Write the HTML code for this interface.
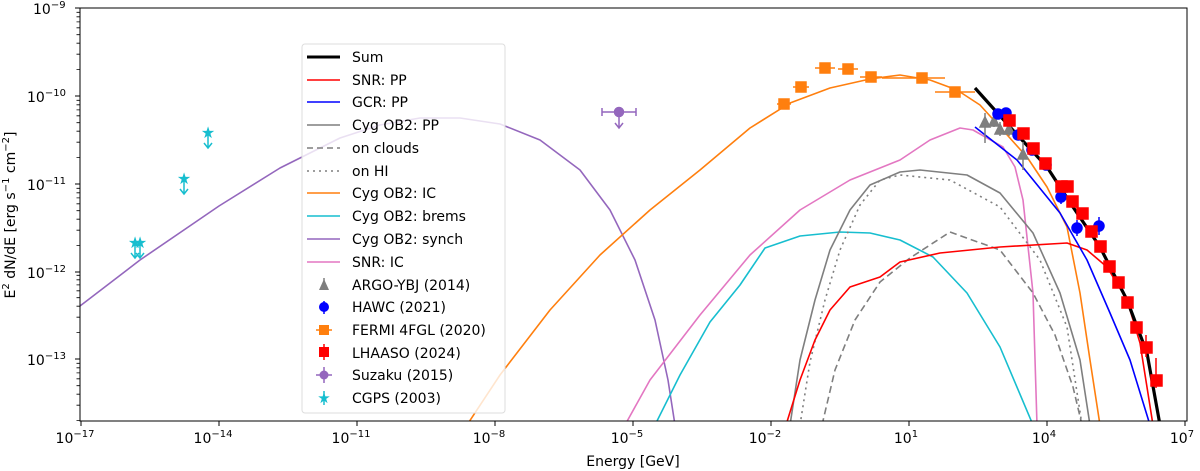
<!DOCTYPE html>
<html><head><meta charset="utf-8"><style>
body{margin:0;background:#fff;}
svg{display:block;font-family:"DejaVu Sans","Liberation Sans",sans-serif;}
</style></head><body>
<svg width="1200" height="471" viewBox="0 0 1200 471" xmlns="http://www.w3.org/2000/svg">
<defs>
<clipPath id="c"><rect x="80" y="8" width="1107" height="413"/></clipPath>
<g id="mt" stroke="#000" stroke-width="0.8">
<path d="M80 -26.4h-3.5M80 -41.8h-3.5M80 -52.8h-3.5M80 -61.3h-3.5M80 -68.2h-3.5M80 -74.1h-3.5M80 -79.2h-3.5M80 -83.7h-3.5"/>
</g>
</defs>
<rect width="1200" height="471" fill="#fff"/>
<g clip-path="url(#c)" fill="none" stroke-width="1.6" stroke-linejoin="round">
<!-- synch -->
<polyline stroke="#9467bd" points="80,306 140,260 219,206 280,168 340,138 380,125 420,118 460,118 500,124 540,140 580,170 610,210 635,260 655,320 668,380 675,425"/>
<!-- IC orange -->
<polyline stroke="#ff7f0e" points="467,425 500,375 550,310 600,255 650,210 700,170 750,128 790,103 830,88 870,79 900,75 930,80 957,90 980,105 1000,127 1027,157 1047,187 1067,227 1080,293 1090,360 1100,425"/>
<!-- SNR IC pink -->
<polyline stroke="#e377c2" points="625,425 650,380 700,315 750,255 800,210 850,180 900,160 930,140 960,128 973,130 1003,147 1015,167 1023,200 1033,293 1037,425"/>
<!-- brems cyan -->
<polyline stroke="#17becf" points="655,425 680,375 710,322 740,285 765,248 800,236 840,232 870,233 900,240 933,257 967,293 1000,347 1033,425"/>
<!-- gray PP -->
<polyline stroke="#7f7f7f" points="790,425 800,360 815,300 830,250 850,210 870,185 900,172 920,170 967,175 1000,193 1033,233 1060,293 1080,360 1090,425"/>
<!-- dotted HI -->
<polyline stroke="#7f7f7f" stroke-dasharray="2,4" points="800,425 810,362 825,300 840,250 860,205 880,180 900,175 950,180 1000,207 1040,260 1067,327 1082,425"/>
<!-- dashed clouds -->
<polyline stroke="#7f7f7f" stroke-dasharray="7,4" points="822,425 835,370 855,320 880,282 910,258 950,232 1000,250 1033,293 1055,335 1073,387 1082,425"/>
<!-- red SNR PP -->
<polyline stroke="#ff0000" points="786,425 800,380 815,340 830,310 850,287 880,277 900,262 940,253 1000,247 1067,243 1087,250 1107,267 1127,300 1140,343 1153,425"/>
<!-- blue GCR -->
<polyline stroke="#0000ff" points="975,127 1017,160 1060,213 1087,260 1110,313 1130,360 1150,425"/>
<!-- sum -->
<polyline stroke="#000" stroke-width="3.2" points="975,88 1010,127 1047,167 1073,207 1100,247 1127,300 1147,353 1160,425"/>
</g>
<!-- data points -->
<g stroke-width="1.5">
<!-- CGPS -->
<g fill="#17becf" stroke="#17becf">
<path d="M135,243v14M131,253l4,5l4,-5M140,243v14M136,253l4,5l4,-5M184,179v14M180,189l4,5l4,-5M208,133v14M204,143l4,5l4,-5" fill="none"/>
<text x="135" y="248" font-size="16" text-anchor="middle" stroke="none">★</text>
<text x="140" y="248" font-size="16" text-anchor="middle" stroke="none">★</text>
<text x="184" y="184" font-size="16" text-anchor="middle" stroke="none">★</text>
<text x="208" y="138" font-size="16" text-anchor="middle" stroke="none">★</text>
</g>
<!-- Suzaku -->
<g stroke="#9467bd" fill="#9467bd">
<path d="M602,112h34M602,108v8M636,108v8M619,112v15M615,123l4,5l4,-5" fill="none"/>
<circle cx="619" cy="112" r="4.5"/>
</g>
<!-- FERMI -->
<g stroke="#ff7f0e" fill="#ff7f0e">
<path d="M777,104h14M793,87h16M815,68h20M838,69h20M860,77h22M882,78h26M900,78h45M935,92h40" fill="none"/>
<rect x="779" y="99" width="10" height="10"/><rect x="796" y="82" width="10" height="10"/><rect x="820" y="63" width="10" height="10"/><rect x="843" y="64" width="10" height="10"/><rect x="866" y="72" width="10" height="10"/><rect x="917" y="73" width="10" height="10"/><rect x="950" y="87" width="10" height="10"/>
</g>
<!-- ARGO -->
<g stroke="#7f7f7f" fill="#7f7f7f">
<path d="M985,113v30M994,115v12M1000,122v14M1009,122v14M1023,142v28" fill="none"/>
<polygon points="985,117 980,127 990,127"/><polygon points="994,116 989,126 999,126"/><polygon points="1000,124 995,134 1005,134"/><polygon points="1009,124 1004,134 1014,134"/><polygon points="1023,149 1018,159 1028,159"/>
</g>
<!-- HAWC -->
<g stroke="#0000ff" fill="#0000ff">
<path d="M1061,190v14M1077,220v16M1099,217v18" fill="none"/>
<circle cx="998" cy="114" r="5"/><circle cx="1006" cy="113" r="5"/><circle cx="1018" cy="135" r="5"/><circle cx="1032" cy="150" r="5"/><circle cx="1046" cy="165" r="5"/><circle cx="1061" cy="197" r="5"/><circle cx="1077" cy="228" r="5"/><circle cx="1099" cy="226" r="5"/>
</g>
<!-- LHAASO -->
<g stroke="#ff0000" fill="#ff0000">
<path d="M1146,335v22M1156,358v30" fill="none"/>
<rect x="1004" y="115" width="11" height="11"/><rect x="1018" y="128" width="11" height="11"/><rect x="1028" y="143" width="11" height="11"/><rect x="1040" y="158" width="11" height="11"/><rect x="1056" y="181" width="11" height="11"/><rect x="1062" y="181" width="11" height="11"/><rect x="1067" y="196" width="11" height="11"/><rect x="1077" y="208" width="11" height="11"/><rect x="1086" y="226" width="11" height="11"/><rect x="1095" y="241" width="11" height="11"/><rect x="1104" y="261" width="11" height="11"/><rect x="1113" y="277" width="11" height="11"/><rect x="1122" y="297" width="11" height="11"/><rect x="1131" y="322" width="11" height="11"/><rect x="1141" y="342" width="11" height="11"/><rect x="1151" y="375" width="11" height="11"/>
</g>
</g>
<!-- axes -->
<rect x="80" y="8" width="1107" height="413" fill="none" stroke="#000" stroke-width="1"/>
<g stroke="#000" stroke-width="1">
<path d="M81,421v5M219,421v5M357,421v5M495,421v5M633,421v5M771,421v5M909,421v5M1047,421v5M1185,421v5"/>
<path d="M80,8h-5M80,96h-5M80,184h-5M80,272h-5M80,359h-5"/>
</g>
<use href="#mt" transform="translate(0,96)"/><use href="#mt" transform="translate(0,184)"/><use href="#mt" transform="translate(0,272)"/><use href="#mt" transform="translate(0,359)"/>
<g stroke="#000" stroke-width="0.8"><path d="M80,420.6h-3.5M80,405.2h-3.5M80,394.2h-3.5M80,385.7h-3.5M80,378.8h-3.5M80,372.9h-3.5M80,367.8h-3.5M80,363.3h-3.5"/></g>
<g font-size="14" fill="#000">
<g text-anchor="middle">
<text x="75" y="443">10<tspan font-size="10" dy="-6">−17</tspan></text>
<text x="213" y="443">10<tspan font-size="10" dy="-6">−14</tspan></text>
<text x="351" y="443">10<tspan font-size="10" dy="-6">−11</tspan></text>
<text x="489" y="443">10<tspan font-size="10" dy="-6">−8</tspan></text>
<text x="627" y="443">10<tspan font-size="10" dy="-6">−5</tspan></text>
<text x="765" y="443">10<tspan font-size="10" dy="-6">−2</tspan></text>
<text x="906" y="443">10<tspan font-size="10" dy="-6">1</tspan></text>
<text x="1044" y="443">10<tspan font-size="10" dy="-6">4</tspan></text>
<text x="1182" y="443">10<tspan font-size="10" dy="-6">7</tspan></text>
<text x="633" y="466">Energy [GeV]</text>
</g>
<text x="33" y="14">10<tspan font-size="10" dy="-6">−9</tspan></text>
<text x="27" y="102">10<tspan font-size="10" dy="-6">−10</tspan></text>
<text x="27" y="190">10<tspan font-size="10" dy="-6">−11</tspan></text>
<text x="27" y="278">10<tspan font-size="10" dy="-6">−12</tspan></text>
<text x="27" y="365">10<tspan font-size="10" dy="-6">−13</tspan></text>
<text transform="translate(15,215) rotate(-90)" text-anchor="middle">E<tspan font-size="10" dy="-6">2</tspan><tspan dy="6"> dN/dE [erg s</tspan><tspan font-size="10" dy="-6">−1</tspan><tspan dy="6"> cm</tspan><tspan font-size="10" dy="-6">−2</tspan><tspan dy="6">]</tspan></text>
</g>
<!-- legend -->
<rect x="302" y="44" width="203" height="369" rx="3" fill="#fff" fill-opacity="0.8" stroke="#ddd"/>
<g stroke-width="1.6" fill="none">
<path d="M307,57h33" stroke="#000" stroke-width="3"/>
<path d="M307,80h33" stroke="#f00"/>
<path d="M307,102h33" stroke="#00f"/>
<path d="M307,125h33" stroke="#7f7f7f"/>
<path d="M307,148h33" stroke="#7f7f7f" stroke-dasharray="6,4"/>
<path d="M307,171h33" stroke="#7f7f7f" stroke-dasharray="2,4"/>
<path d="M307,193h33" stroke="#ff7f0e"/>
<path d="M307,216h33" stroke="#17becf"/>
<path d="M307,239h33" stroke="#9467bd"/>
<path d="M307,262h33" stroke="#e377c2"/>
</g>
<polygon points="324,279 319,290 329,290" fill="#7f7f7f"/><path d="M324,278v12" stroke="#7f7f7f" stroke-width="1.5"/>
<circle cx="324" cy="307" r="5" fill="#00f"/><path d="M324,301v13" stroke="#00f" stroke-width="1.5"/>
<rect x="319" y="325" width="10" height="10" fill="#ff7f0e"/><path d="M316,330h16" stroke="#ff7f0e" stroke-width="1.5"/>
<rect x="319" y="347" width="10" height="10" fill="#f00"/><path d="M324,344v16" stroke="#f00" stroke-width="1.5"/>
<circle cx="324" cy="375" r="4.5" fill="#9467bd"/><path d="M316,375h16M324,367v16" stroke="#9467bd" stroke-width="1.5"/>
<text x="324" y="403" font-size="15" fill="#17becf" text-anchor="middle">★</text><path d="M324,391v14" stroke="#17becf" stroke-width="1.5"/>
<g font-size="14" fill="#000">
<text x="352" y="62">Sum</text>
<text x="352" y="85">SNR: PP</text>
<text x="352" y="107">GCR: PP</text>
<text x="352" y="130">Cyg OB2: PP</text>
<text x="352" y="153">on clouds</text>
<text x="352" y="176">on HI</text>
<text x="352" y="198">Cyg OB2: IC</text>
<text x="352" y="221">Cyg OB2: brems</text>
<text x="352" y="244">Cyg OB2: synch</text>
<text x="352" y="267">SNR: IC</text>
<text x="352" y="290">ARGO-YBJ (2014)</text>
<text x="352" y="312">HAWC (2021)</text>
<text x="352" y="335">FERMI 4FGL (2020)</text>
<text x="352" y="358">LHAASO (2024)</text>
<text x="352" y="380">Suzaku (2015)</text>
<text x="352" y="403">CGPS (2003)</text>
</g>
</svg>
</body></html>
